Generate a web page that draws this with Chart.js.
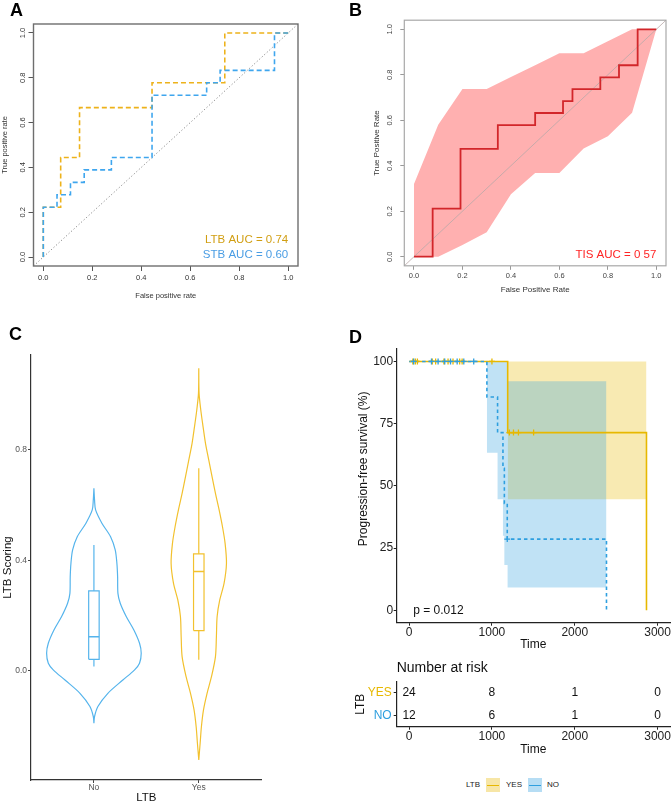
<!DOCTYPE html>
<html>
<head>
<meta charset="utf-8">
<title>LTB figure</title>
<script src="https://cdn.jsdelivr.net/npm/chart.js@4.4.1/dist/chart.umd.min.js"></script>
<style>
  html, body { margin: 0; padding: 0; background: #fff; }
  #fig { position: relative; width: 671px; height: 802px; overflow: hidden; font-family: "Liberation Sans", Arial, sans-serif; }
  #fig canvas { position: absolute; }
  .tag { position: absolute; font: bold 18px/18px "Liberation Sans", Arial, sans-serif; color: #000; }
  .lg { position: absolute; top: 780px; font-size: 8px; line-height: 10px; color: #222; }
  .key { position: absolute; top: 778px; width: 14px; height: 14px; }
  .key::after { content: ""; position: absolute; left: 1px; right: 1px; top: 6.5px; height: 1.4px; background: var(--c); }
</style>
</head>
<body>
<div id="fig">
  <canvas id="cA" width="335" height="305" style="left:0;top:0"></canvas>
  <canvas id="cB" width="336" height="305" style="left:335px;top:0"></canvas>
  <canvas id="cC" width="335" height="495" style="left:0;top:310px"></canvas>
  <canvas id="cD" width="336" height="345" style="left:335px;top:310px"></canvas>
  <canvas id="cR" width="336" height="105" style="left:335px;top:655px"></canvas>
  <div class="tag" style="left:10px;top:1px">A</div>
  <div class="tag" style="left:349px;top:1px">B</div>
  <div class="tag" style="left:9px;top:325px">C</div>
  <div class="tag" style="left:349px;top:328px">D</div>
  <div class="lg" style="left:466px">LTB</div>
  <div class="key" style="left:486px;background:rgba(231,184,0,0.35);--c:#E7B800"></div>
  <div class="lg" style="left:506px">YES</div>
  <div class="key" style="left:528px;background:rgba(46,159,223,0.35);--c:#2E9FDF"></div>
  <div class="lg" style="left:547px">NO</div>
</div>
<script>
// ---------- data ----------
// A: ROC curves
var rocTicks = [0, 0.2, 0.4, 0.6, 0.8, 1.0];
var ltbFpr = [0, 0, 0.071, 0.071, 0.148, 0.148, 0.444, 0.444, 0.741, 0.741, 1];
var ltbTpr = [0, 0.222, 0.222, 0.444, 0.444, 0.667, 0.667, 0.778, 0.778, 1, 1];
var stbFpr = [0, 0, 0.056, 0.056, 0.111, 0.111, 0.167, 0.167, 0.278, 0.278, 0.444, 0.444, 0.667, 0.667, 0.722, 0.722, 0.944, 0.944, 1];
var stbTpr = [0, 0.222, 0.222, 0.278, 0.278, 0.333, 0.333, 0.389, 0.389, 0.444, 0.444, 0.722, 0.722, 0.778, 0.778, 0.833, 0.833, 1, 1];

// B: TIS ROC with confidence band
var tisFpr = [0, 0.077, 0.077, 0.192, 0.192, 0.346, 0.346, 0.5, 0.5, 0.615, 0.615, 0.654, 0.654, 0.769, 0.769, 0.846, 0.846, 0.923, 0.923, 1];
var tisTpr = [0, 0, 0.211, 0.211, 0.474, 0.474, 0.579, 0.579, 0.632, 0.632, 0.684, 0.684, 0.737, 0.737, 0.789, 0.789, 0.842, 0.842, 1, 1];
var bandFpr = [0, 0.1, 0.2, 0.3, 0.4, 0.5, 0.6, 0.7, 0.8, 0.9, 1];
var bandUpper = [0.32, 0.58, 0.737, 0.737, 0.79, 0.842, 0.895, 0.895, 0.947, 1, 1];
var bandLower = [0, 0, 0.052, 0.108, 0.275, 0.368, 0.368, 0.476, 0.53, 0.633, 1];

// C: violins (density outline) and box stats [low, q1, median, q3, high]
var groups = ['No', 'Yes'];
var scoreTicks = [0, 0.4, 0.8];
var noLevels = [0.661, 0.619, 0.583, 0.535, 0.486, 0.438, 0.390, 0.341, 0.281, 0.245, 0.197, 0.148, 0.100, 0.064, 0.028, 0.004, -0.033, -0.081, -0.129, -0.165, -0.189];
var noHalf = [0, 0.006, 0.016, 0.076, 0.159, 0.203, 0.219, 0.226, 0.229, 0.251, 0.308, 0.381, 0.435, 0.451, 0.435, 0.388, 0.276, 0.133, 0.038, 0.006, 0];
var yesLevels = [1.096, 1.005, 0.945, 0.884, 0.824, 0.764, 0.703, 0.643, 0.583, 0.522, 0.462, 0.390, 0.317, 0.257, 0.197, 0.124, 0.052, -0.021, -0.081, -0.141, -0.202, -0.262, -0.322];
var yesHalf = [0, 0.003, 0.019, 0.041, 0.064, 0.095, 0.127, 0.159, 0.194, 0.226, 0.251, 0.264, 0.241, 0.200, 0.175, 0.168, 0.159, 0.121, 0.079, 0.045, 0.025, 0.013, 0];
var noBox = [0.016, 0.042, 0.124, 0.29, 0.456];
var yesBox = [0.04, 0.146, 0.36, 0.424, 0.734];

// D: Kaplan-Meier
var timeTicks = [0, 1000, 2000, 3000];
var survTicks = [0, 25, 50, 75, 100];
var yesTime = [0, 1190, 2866];
var yesSurv = [100, 71.4, 0];
var noTime = [0, 939, 1068, 1133, 1150, 1185, 2383];
var noSurv = [100, 85.7, 71.4, 57.1, 42.9, 28.6, 0];
var yesCiTime = [1190, 2866];
var yesCiUpper = [100];
var yesCiLower = [44.6];
var noCiTime = [939, 1068, 1133, 1150, 1189, 2383];
var noCiUpper = [100, 100, 100, 100, 92];
var noCiLower = [63.3, 44.6, 29.9, 18.2, 9.1];
var yesCensorTime = [45, 75, 100, 280, 320, 420, 470, 530, 610, 640, 1000, 1210, 1260, 1320, 1503];
var yesCensorSurv = [100, 100, 100, 100, 100, 100, 100, 100, 100, 100, 100, 71.4, 71.4, 71.4, 71.4];
var noCensorTime = [55, 270, 350, 430, 500, 580, 660, 780, 1185];
var noCensorSurv = [100, 100, 100, 100, 100, 100, 100, 100, 28.6];
var riskGroups = ['YES', 'NO'];
var yesRisk = [24, 8, 1, 0];
var noRisk = [12, 6, 1, 0];

// ---------- helpers ----------
var FONT = '"Liberation Sans", Arial, Helvetica, sans-serif';
Chart.defaults.font.family = FONT;
Chart.defaults.animation = false;
Chart.defaults.events = [];
Chart.defaults.plugins.legend.display = false;
Chart.defaults.plugins.tooltip.enabled = false;
Chart.defaults.elements.point.radius = 0;
Chart.defaults.layout.autoPadding = false;

var ltbColor = '#EDB21B', stbColor = '#3FA6EE';
var yesColor = '#E7B800', noColor = '#2E9FDF';

function pts(xs, ys) {
  return xs.map(function (x, i) { return { x: x, y: ys[i] }; });
}
function stepPts(t, v) {
  return t.map(function (x, i) { return { x: x, y: v[Math.min(i, v.length - 1)] }; });
}
function fixTicks(list) {
  return function (s) { s.ticks = list.map(function (v) { return { value: v }; }); };
}
function fitH(h) {
  return function (s) { s.height = h; s.paddingLeft = 0; s.paddingRight = 0; };
}
function plain(v) { return String(v); }
function violin(c, levels, half) {
  var left = levels.map(function (v, i) { return { x: c - half[i], y: v }; });
  var right = levels.map(function (v, i) { return { x: c + half[i], y: v }; }).reverse();
  return left.concat(right, [left[0]]);
}
function boxRect(c, b, w) {
  return [{ x: c - w, y: b[1] }, { x: c + w, y: b[1] }, { x: c + w, y: b[3] }, { x: c - w, y: b[3] }, { x: c - w, y: b[1] }];
}
function lineSet(data, color, width, dash, extra) {
  var d = { data: data, showLine: true, borderColor: color, borderWidth: width, borderDash: dash || [], pointRadius: 0, fill: false };
  for (var k in extra || {}) d[k] = extra[k];
  return d;
}

// plugins (factories, so no functions go through the options resolver)
function frame(color, width) {
  return { id: 'frame', afterDatasetsDraw: function (chart) {
    var a = chart.chartArea, ctx = chart.ctx;
    ctx.save(); ctx.strokeStyle = color; ctx.lineWidth = width;
    ctx.strokeRect(a.left, a.top, a.right - a.left, a.bottom - a.top);
    ctx.restore();
  } };
}
function rotY(x, size, color) {
  return { id: 'rotY', afterDraw: function (chart) {
    var ctx = chart.ctx, y = chart.scales.y;
    ctx.save(); ctx.font = size + 'px ' + FONT; ctx.fillStyle = color;
    ctx.textAlign = 'center'; ctx.textBaseline = 'middle';
    y.ticks.forEach(function (t) {
      ctx.save(); ctx.translate(x, y.getPixelForValue(t.value)); ctx.rotate(-Math.PI / 2);
      ctx.fillText(t.value.toFixed(1), 0, 0); ctx.restore();
    });
    ctx.restore();
  } };
}
function notes(list) {
  return { id: 'notes', afterDraw: function (chart) {
    var ctx = chart.ctx, sx = chart.scales.x, sy = chart.scales.y;
    list.forEach(function (n) {
      ctx.save(); ctx.font = n.size + 'px ' + FONT; ctx.fillStyle = n.color;
      ctx.textAlign = n.align; ctx.textBaseline = 'middle';
      ctx.fillText(n.text, sx.getPixelForValue(n.x), sy.getPixelForValue(n.y));
      ctx.restore();
    });
  } };
}

// ---------- A ----------
new Chart(document.getElementById('cA'), {
  type: 'scatter',
  data: { datasets: [
    lineSet(pts(stbFpr, stbTpr), stbColor, 1.6, [5, 3]),
    lineSet(pts(ltbFpr, ltbTpr), ltbColor, 1.6, [5, 3]),
    lineSet([{ x: -0.04, y: -0.04 }, { x: 1.04, y: 1.04 }], '#8a8a8a', 1, [1.2, 2.2])
  ] },
  options: {
    responsive: false,
    layout: { padding: { left: 0, top: 24, right: 37, bottom: 0 } },
    scales: {
      x: { type: 'linear', min: -0.04, max: 1.04, afterBuildTicks: fixTicks(rocTicks),
        afterFit: fitH(39),
        ticks: { font: { size: 7.5 }, color: '#333', padding: 2.5, maxRotation: 0, callback: function (v) { return v.toFixed(1); } },
        grid: { drawOnChartArea: false, tickLength: 5, color: '#555' }, border: { display: false },
        title: { display: true, text: 'False positive rate', font: { size: 7.5 }, color: '#333', padding: { top: 0, bottom: 4.5 } } },
      y: { type: 'linear', min: -0.04, max: 1.04, afterBuildTicks: fixTicks(rocTicks),
        afterFit: function (s) { s.width = 33.5; },
        ticks: { display: false },
        grid: { drawOnChartArea: false, tickLength: 5, color: '#555' }, border: { display: false },
        title: { display: true, text: 'True positive rate', font: { size: 7.5 }, color: '#333', padding: { top: 0, bottom: 0 } } }
    }
  },
  plugins: [frame('#6e6e6e', 1.4), rotY(22.7, 7.5, '#333'), notes([
    { text: 'LTB AUC = 0.74', x: 1.0, y: 0.079, color: '#D19E12', size: 11.5, align: 'right' },
    { text: 'STB AUC = 0.60', x: 1.0, y: 0.012, color: '#4A9DE4', size: 11.5, align: 'right' }
  ])]
});

// ---------- B ----------
new Chart(document.getElementById('cB'), {
  type: 'scatter',
  data: { datasets: [
    lineSet(pts(tisFpr, tisTpr), '#D2262A', 1.8, [], { order: 0 }),
    lineSet([{ x: -0.04, y: -0.04 }, { x: 1.04, y: 1.04 }], '#b9a8a8', 0.8, [], { order: 1 }),
    lineSet(pts(bandFpr, bandUpper), 'rgba(0,0,0,0)', 0, [], { order: 2, fill: '+1', backgroundColor: '#FFB0B0' }),
    lineSet(pts(bandFpr, bandLower), 'rgba(0,0,0,0)', 0, [], { order: 3 })
  ] },
  options: {
    responsive: false,
    layout: { padding: { left: 0, top: 20.2, right: 5, bottom: 0 } },
    scales: {
      x: { type: 'linear', min: -0.04, max: 1.04, afterBuildTicks: fixTicks(rocTicks),
        afterFit: fitH(39.2),
        ticks: { font: { size: 7.5 }, color: '#444', padding: 2, maxRotation: 0, callback: function (v) { return v.toFixed(1); } },
        grid: { drawOnChartArea: false, tickLength: 4, color: '#999' }, border: { display: false },
        title: { display: true, text: 'False Positive Rate', font: { size: 8 }, color: '#333', padding: { top: 0, bottom: 10.2 } } },
      y: { type: 'linear', min: -0.04, max: 1.04, afterBuildTicks: fixTicks(rocTicks),
        afterFit: function (s) { s.width = 69.3; },
        ticks: { display: false },
        grid: { drawOnChartArea: false, tickLength: 4, color: '#999' }, border: { display: false },
        title: { display: true, text: 'True Positive Rate', font: { size: 8 }, color: '#333', padding: { top: 36.9, bottom: 0 } } }
    }
  },
  plugins: [frame('#a8a8a8', 1.2), rotY(55, 7.5, '#444'), notes([
    { text: 'TIS AUC = 0 57', x: 1.0, y: 0.008, color: '#FF2424', size: 11.5, align: 'right' }
  ])]
});

// ---------- C ----------
var noCol = '#55B4EC', yesCol = '#F2C12E';
new Chart(document.getElementById('cC'), {
  type: 'scatter',
  data: { datasets: [
    lineSet(violin(1, noLevels, noHalf), noCol, 1.2, [], { tension: 0.3 }),
    lineSet(boxRect(1, noBox, 0.05), noCol, 1.2),
    lineSet([{ x: 0.95, y: noBox[2] }, { x: 1.05, y: noBox[2] }], noCol, 1.6),
    lineSet([{ x: 1, y: noBox[3] }, { x: 1, y: noBox[4] }], noCol, 1.2),
    lineSet([{ x: 1, y: noBox[0] }, { x: 1, y: noBox[1] }], noCol, 1.2),
    lineSet(violin(2, yesLevels, yesHalf), yesCol, 1.2, [], { tension: 0.3 }),
    lineSet(boxRect(2, yesBox, 0.05), yesCol, 1.2),
    lineSet([{ x: 1.95, y: yesBox[2] }, { x: 2.05, y: yesBox[2] }], yesCol, 1.6),
    lineSet([{ x: 2, y: yesBox[3] }, { x: 2, y: yesBox[4] }], yesCol, 1.2),
    lineSet([{ x: 2, y: yesBox[0] }, { x: 2, y: yesBox[1] }], yesCol, 1.2)
  ] },
  options: {
    responsive: false,
    layout: { padding: { left: 0, top: 45, right: 73.3, bottom: 0 } },
    scales: {
      x: { type: 'linear', min: 0.4, max: 2.6, afterBuildTicks: fixTicks([1, 2]),
        afterFit: fitH(25),
        ticks: { font: { size: 8.5 }, color: '#555', padding: 0, maxRotation: 0, callback: function (v) { return groups[Math.round(v) - 1]; } },
        grid: { drawOnChartArea: false, tickLength: 3, color: '#444' }, border: { display: true, color: '#333', width: 1.2 },
        title: { display: true, text: 'LTB', font: { size: 11.5 }, color: '#111', padding: { top: 0, bottom: 0.6 } } },
      y: { type: 'linear', min: -0.395, max: 1.144, afterBuildTicks: fixTicks(scoreTicks),
        afterFit: function (s) { s.width = 31; },
        ticks: { font: { size: 8.5 }, color: '#555', padding: 1, callback: function (v) { return v.toFixed(1); } },
        grid: { drawOnChartArea: false, tickLength: 3, color: '#444' }, border: { display: true, color: '#333', width: 1.2 },
        title: { display: true, text: 'LTB Scoring', font: { size: 11.5 }, color: '#111', padding: { top: 1, bottom: 0 } } }
    }
  }
});

// ---------- D ----------
new Chart(document.getElementById('cD'), {
  type: 'scatter',
  data: { datasets: [
    { data: pts(noCensorTime, noCensorSurv), pointStyle: 'cross', pointRadius: 3, borderColor: noColor, borderWidth: 1.3, order: 0 },
    { data: pts(yesCensorTime, yesCensorSurv), pointStyle: 'cross', pointRadius: 3, borderColor: yesColor, borderWidth: 1.3, order: 0 },
    lineSet(pts(noTime, noSurv), noColor, 1.6, [3.5, 3], { stepped: true, order: 1 }),
    lineSet(pts(yesTime, yesSurv), yesColor, 1.6, [], { stepped: true, order: 2 }),
    lineSet(stepPts(noCiTime, noCiUpper), 'rgba(0,0,0,0)', 0, [], { stepped: true, fill: '+1', backgroundColor: 'rgba(46,159,223,0.3)', order: 5 }),
    lineSet(stepPts(noCiTime, noCiLower), 'rgba(0,0,0,0)', 0, [], { stepped: true, order: 6 }),
    lineSet(stepPts(yesCiTime, yesCiUpper), 'rgba(0,0,0,0)', 0, [], { stepped: true, fill: '+1', backgroundColor: 'rgba(231,184,0,0.3)', order: 7 }),
    lineSet(stepPts(yesCiTime, yesCiLower), 'rgba(0,0,0,0)', 0, [], { stepped: true, order: 8 })
  ] },
  options: {
    responsive: false,
    layout: { padding: { left: 0, top: 39, right: 1, bottom: 0 } },
    scales: {
      x: { type: 'linear', min: -150, max: 3150, afterBuildTicks: fixTicks(timeTicks),
        afterFit: fitH(32.3),
        ticks: { font: { size: 12 }, color: '#222', padding: 0, maxRotation: 0, callback: plain },
        grid: { drawOnChartArea: false, tickLength: 3, color: '#222' }, border: { display: true, color: '#222', width: 1.2 },
        title: { display: true, text: 'Time', font: { size: 12 }, color: '#111', padding: { top: 0, bottom: 2.8 } } },
      y: { type: 'linear', min: -5, max: 105, afterBuildTicks: fixTicks(survTicks),
        afterFit: function (s) { s.width = 61.7; },
        ticks: { font: { size: 12 }, color: '#222', padding: 0.5, callback: plain },
        grid: { drawOnChartArea: false, tickLength: 3, color: '#222' }, border: { display: true, color: '#222', width: 1.2 } }
    }
  },
  plugins: [notes([{ text: 'p = 0.012', x: 50, y: 0, color: '#111', size: 12, align: 'left' }]),
    { id: 'ytitle', afterDraw: function (chart) {
      var ctx = chart.ctx, a = chart.chartArea;
      ctx.save(); ctx.font = '12px ' + FONT; ctx.fillStyle = '#111';
      ctx.textAlign = 'center'; ctx.textBaseline = 'middle';
      ctx.translate(28.3, (a.top + a.bottom) / 2 - 17); ctx.rotate(-Math.PI / 2);
      ctx.fillText('Progression-free survival (%)', 0, 0); ctx.restore();
    } }]
});

// ---------- risk table ----------
new Chart(document.getElementById('cR'), {
  type: 'scatter',
  data: { datasets: [
    { data: timeTicks.map(function (t) { return { x: t, y: 'YES' }; }), counts: yesRisk, pointRadius: 0 },
    { data: timeTicks.map(function (t) { return { x: t, y: 'NO' }; }), counts: noRisk, pointRadius: 0 }
  ] },
  options: {
    responsive: false,
    layout: { padding: { left: 0, top: 26.7, right: 1, bottom: 0 } },
    scales: {
      x: { type: 'linear', min: -150, max: 3150, afterBuildTicks: fixTicks(timeTicks),
        afterFit: fitH(33.3),
        ticks: { font: { size: 12 }, color: '#222', padding: 0, maxRotation: 0, callback: plain },
        grid: { drawOnChartArea: false, tickLength: 3, color: '#222' }, border: { display: true, color: '#222', width: 1.2 },
        title: { display: true, text: 'Time', font: { size: 12 }, color: '#111', padding: { top: 0, bottom: 2.8 } } },
      y: { type: 'category', labels: riskGroups, offset: true,
        afterFit: function (s) { s.width = 61.7; },
        ticks: { font: { size: 12 }, padding: 2, color: function (c) { return c.index === 0 ? yesColor : noColor; } },
        grid: { drawOnChartArea: false, tickLength: 3, color: '#222' }, border: { display: true, color: '#222', width: 1.2 },
        title: { display: true, text: 'LTB', font: { size: 12 }, color: '#111', padding: { top: 18.8, bottom: 0 } } }
    }
  },
  plugins: [{ id: 'riskText', afterDatasetsDraw: function (chart) {
    var ctx = chart.ctx;
    ctx.save(); ctx.fillStyle = '#111'; ctx.textBaseline = 'middle';
    ctx.font = '14px ' + FONT; ctx.textAlign = 'left';
    ctx.fillText('Number at risk', chart.chartArea.left, 13);
    ctx.font = '12px ' + FONT; ctx.textAlign = 'center';
    chart.data.datasets.forEach(function (ds, i) {
      chart.getDatasetMeta(i).data.forEach(function (el, j) { ctx.fillText(String(ds.counts[j]), el.x, el.y); });
    });
    ctx.restore();
  } }]
});
</script>
</body>
</html>
